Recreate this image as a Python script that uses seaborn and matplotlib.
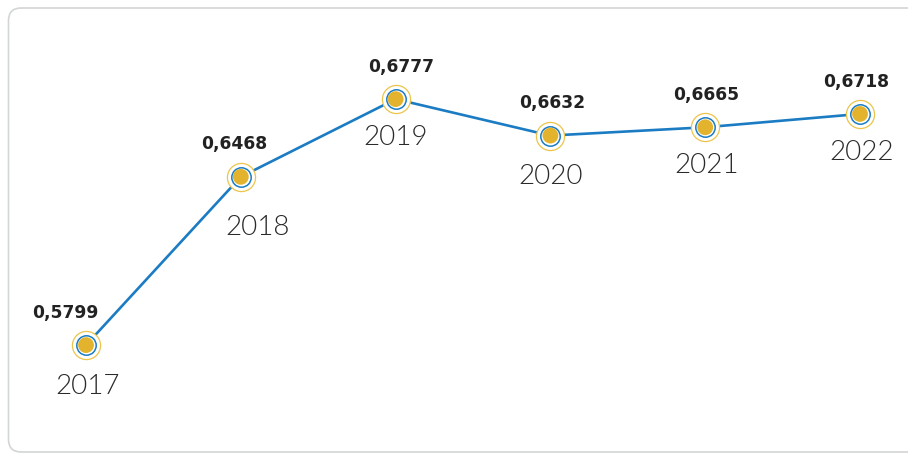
#!/usr/bin/env python3
"""Line chart of yearly index values, drawn on a rounded card."""

import pandas as pd
import seaborn as sns
import matplotlib.pyplot as plt
from matplotlib.patches import FancyBboxPatch

years = ["2017", "2018", "2019", "2020", "2021", "2022"]
values = [0.5799, 0.6468, 0.6777, 0.6632, 0.6665, 0.6718]
value_labels = ["0,5799", "0,6468", "0,6777", "0,6632", "0,6665", "0,6718"]

LINE_BLUE = "#1b7cc3"
GOLD = "#e4b32e"
TEXT = "#222222"


def main():
    sns.set_style("white")
    plt.rcParams["font.family"] = ["Lato", "DejaVu Sans"]

    df = pd.DataFrame({"idx": range(len(years)), "value": values, "year": years})

    fig = plt.figure(figsize=(9.08, 4.56), dpi=100)

    # card frame (behind the axes)
    card = FancyBboxPatch((8.5 / 908, 3 / 456), 1.2, 444 / 456,
                          boxstyle="round,pad=0,rounding_size=0.014",
                          transform=fig.transFigure, facecolor="none",
                          edgecolor="#d3d6d6", linewidth=1.2, mutation_aspect=2.0, zorder=-1)
    fig.patches.append(card)

    ax = fig.add_axes([0, 0, 1, 1])
    ax.set_facecolor("none")
    sns.lineplot(data=df, x="idx", y="value", color=LINE_BLUE, linewidth=1.9, ax=ax, zorder=2)

    # layered markers: outer gold ring, white gap, blue ring, gold dot
    ax.scatter(df["idx"], df["value"], s=410, facecolor="white", edgecolor="#edc44a", linewidth=0.9, zorder=3)
    ax.scatter(df["idx"], df["value"], s=195, facecolor="white", edgecolor=LINE_BLUE, linewidth=1.1, zorder=4)
    ax.scatter(df["idx"], df["value"], s=130, facecolor=GOLD, edgecolor="none", zorder=5)

    # label offsets in points (dx for values, dx/dy for years)
    val_dx = [-15, -5, 4, 1, 1, -3]
    year_dx = [1, 12, 0, 0, 1, 1]
    year_dy = [-29, -36, -27, -29, -27, -27]
    for i, row in df.iterrows():
        ax.annotate(value_labels[i], (row["idx"], row["value"]), xytext=(val_dx[i], 24),
                    textcoords="offset points", ha="center", va="center",
                    fontsize=12.3, fontweight="bold", color=TEXT, zorder=6,
                    family=["DejaVu Sans"])
        ax.annotate(row["year"], (row["idx"], row["value"]), xytext=(year_dx[i], year_dy[i]),
                    textcoords="offset points", ha="center", va="center",
                    fontsize=20, fontweight=300, color="#2a2a2a", zorder=6)

    ax.set_xlim(-0.5556, 5.310)
    ax.set_ylim(0.5362, 0.7175)
    ax.axis("off")

    fig.savefig("out.png", dpi=100)


if __name__ == "__main__":
    main()
